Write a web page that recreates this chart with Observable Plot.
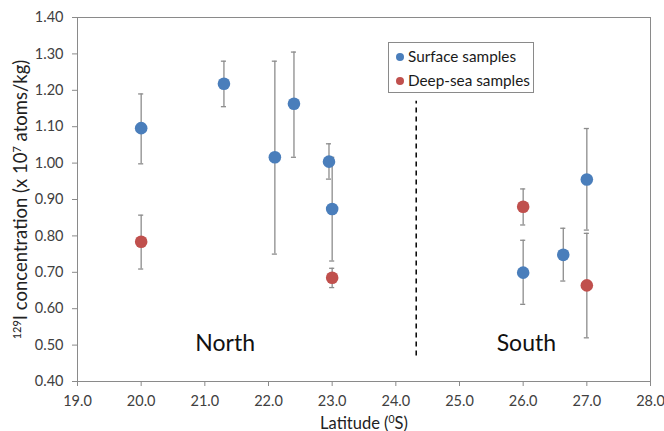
<!DOCTYPE html>
<html><head><meta charset="utf-8">
<script src="https://cdn.jsdelivr.net/npm/d3@7"></script>
<script src="https://cdn.jsdelivr.net/npm/@observablehq/plot@0.6"></script>
<style>
body{margin:0;background:#fff;font-family:Lato,"Noto Sans",sans-serif;}
#wrap{position:relative;width:664px;height:431px;}
#legend{position:absolute;left:388px;top:42px;width:146px;height:51px;box-sizing:border-box;border:1px solid #8a8a8a;background:#fff;font-size:15.3px;color:#1a1a1a;}
#legend .row{position:absolute;left:7px;height:20px;line-height:20px;white-space:nowrap;}
#legend .sw{display:inline-block;width:8px;height:8px;border-radius:50%;margin-right:4px;vertical-align:1px;}
</style></head><body><div id="wrap"></div>
<script>
const surfaceLat = [20.0, 21.3, 22.1, 22.4, 22.95, 23.0, 26.0, 26.63, 27.0];
const surfaceConc = [1.096, 1.218, 1.016, 1.163, 1.004, 0.874, 0.699, 0.748, 0.955];
const surfaceLow = [0.998, 1.155, 0.750, 1.016, 0.956, 0.731, 0.612, 0.676, 0.816];
const surfaceHigh = [1.190, 1.280, 1.280, 1.305, 1.053, 1.016, 0.788, 0.821, 1.095];
const deepLat = [20.0, 23.0, 26.0, 27.0];
const deepConc = [0.784, 0.685, 0.880, 0.664];
const deepLow = [0.709, 0.658, 0.830, 0.520];
const deepHigh = [0.857, 0.711, 0.929, 0.807];
const seriesNames = ["Surface samples", "Deep-sea samples"];
const seriesColors = ["#4A7EBB", "#C0504D"];
const xTicks = [19, 20, 21, 22, 23, 24, 25, 26, 27, 28];
const yTicks = [0.4, 0.5, 0.6, 0.7, 0.8, 0.9, 1.0, 1.1, 1.2, 1.3, 1.4];
const regionNames = ["North", "South"];
const regionLat = [21.32, 26.05];
const regionConc = [0.505, 0.505];
const dividerLat = [24.32];
const dividerFrom = [0.47];
const dividerTo = [1.17];

const rows = [];
surfaceLat.forEach((x, i) => rows.push({series: seriesNames[0], x, y: surfaceConc[i], lo: surfaceLow[i], hi: surfaceHigh[i]}));
deepLat.forEach((x, i) => rows.push({series: seriesNames[1], x, y: deepConc[i], lo: deepLow[i], hi: deepHigh[i]}));
const capHalf = 0.04;
const barColor = "#8c8c8c";

const chart = Plot.plot({
  width: 664, height: 431,
  marginLeft: 77, marginRight: 14, marginTop: 17, marginBottom: 50,
  style: {fontFamily: "Lato, 'Noto Sans', sans-serif", fontSize: "14.5px", color: "#404040", background: "#fff"},
  x: {domain: [19, 28], ticks: xTicks, tickFormat: d3.format(".1f"), tickSize: 5, tickPadding: 9, label: "Latitude (0S)", labelAnchor: "center", labelOffset: 47},
  y: {domain: [0.4, 1.4], ticks: yTicks, tickFormat: d3.format(".2f"), tickSize: 5, tickPadding: 9, label: "129I concentration (x 107 atoms/kg)", labelAnchor: "center", labelOffset: 64},
  color: {domain: seriesNames, range: seriesColors},
  marks: [
    Plot.frame({stroke: "#8a8a8a"}),
    Plot.ruleX(dividerLat, {x: d => d, y1: () => dividerFrom[0], y2: () => dividerTo[0], stroke: "#000", strokeWidth: 1.5, strokeDasharray: "5,4"}),
    Plot.ruleX(rows, {x: "x", y1: "lo", y2: "hi", stroke: barColor, strokeWidth: 1.3}),
    Plot.ruleY(rows, {y: "lo", x1: d => d.x - capHalf, x2: d => d.x + capHalf, stroke: barColor, strokeWidth: 1.3}),
    Plot.ruleY(rows, {y: "hi", x1: d => d.x - capHalf, x2: d => d.x + capHalf, stroke: barColor, strokeWidth: 1.3}),
    Plot.dot(rows, {x: "x", y: "y", r: 6.3, fill: "series", stroke: "none"}),
    Plot.text(regionNames, {x: (d, i) => regionLat[i], y: (d, i) => regionConc[i], text: d => d, fontSize: 23, fill: "#111"})
  ]
});
document.getElementById("wrap").appendChild(chart);

// superscripts in axis titles
const svg = d3.select(chart);
svg.selectAll("g[aria-label='y-axis label'] text, g[aria-label='x-axis label'] text").each(function() {
  const t = d3.select(this);
  const s = t.text();
  const isY = s.startsWith("129");
  t.text(null);
  const parts = isY ? [["129", true], ["I concentration (x 10", false], ["7", true], [" atoms/kg)", false]]
    : [["Latitude (", false], ["0", true], ["S)", false]];
  t.attr("font-size", isY ? 18.5 : 16.5).attr("fill", "#222");
  parts.forEach(([txt, sup]) => {
    const ts = t.append("tspan").text(txt);
    if (sup) ts.attr("baseline-shift", "super").attr("font-size", isY ? "11px" : "10.5px");
  });
});
svg.selectAll("g[aria-label='x-axis tick'] path, g[aria-label='y-axis tick'] path").attr("stroke", "#8a8a8a");

// legend inside plot
const lg = d3.select("#wrap").append("div").attr("id", "legend");
seriesNames.forEach((n, i) => {
  const r = lg.append("div").attr("class", "row").style("top", (3 + i * 24) + "px");
  r.append("span").attr("class", "sw").style("background", seriesColors[i]);
  r.append("span").text(n);
});
</script></body></html>
